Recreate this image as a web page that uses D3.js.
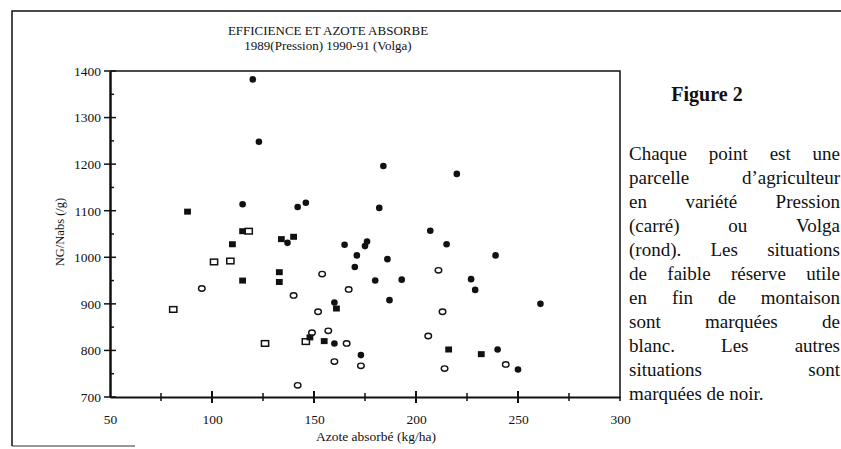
<!DOCTYPE html>
<html>
<head>
<meta charset="utf-8">
<script src="https://cdn.jsdelivr.net/npm/d3@7"></script>
<style>
  body { margin: 0; background: #fff; }
  svg text { font-family: "Liberation Serif", "Times New Roman", serif; fill: #111; }
</style>
</head>
<body>
<svg id="chart" width="841" height="449"></svg>
<script>
// Pression = carré, Volga = rond ; noir = autres situations, blanc = faible réserve utile
const pressionNoir = [[88,1098],[110,1028],[115,950],[115,1056],[133,968],[133,947],[134,1039],
  [140,1044],[161,890],[148,828],[155,820],[216,802],[232,792]];
const pressionBlanc = [[81,888],[101,990],[109,992],[118,1056],[126,815],[146,819]];
const volgaNoir = [[120,1382],[123,1248],[115,1114],[142,1108],[146,1117],[137,1031],[182,1106],
  [184,1196],[220,1179],[165,1027],[171,1004],[170,979],[175,1024],[176,1034],[186,996],
  [180,950],[193,952],[187,908],[160,903],[160,815],[173,790],[207,1057],[215,1028],
  [239,1004],[227,953],[229,930],[261,900],[240,802],[250,759]];
const volgaBlanc = [[95,933],[140,918],[154,964],[152,883],[167,931],[149,838],[157,842],
  [166,815],[160,776],[173,767],[142,725],[211,972],[213,883],[206,831],[214,761],[244,770]];

const xTicks = [50, 100, 150, 200, 250, 300];
const xMajor = [100, 150, 200, 250];
const xMinor = [75, 125, 175, 225, 275];
const yTicks = [700, 800, 900, 1000, 1100, 1200, 1300, 1400];
const yMinor = [750, 850, 950, 1050, 1150, 1250, 1350];

const titleLines = ["EFFICIENCE ET AZOTE ABSORBE", "1989(Pression) 1990-91 (Volga)"];
const noteLines = [
  "Chaque point est une",
  "parcelle d\u2019agriculteur",
  "en variété Pression",
  "(carré) ou Volga",
  "(rond). Les situations",
  "de faible réserve utile",
  "en fin de montaison",
  "sont marquées de",
  "blanc. Les autres",
  "situations sont",
  "marquées de noir."
];

const svg = d3.select("#chart");
const x = d3.scaleLinear().domain([50, 300]).range([110, 620]);
const y = d3.scaleLinear().domain([700, 1400]).range([397, 71]);

// cadre extérieur
svg.append("path")
   .attr("d", "M12,446 L12,11 L841,11")
   .attr("fill", "none").attr("stroke", "#111").attr("stroke-width", 1.5);
svg.append("line")
   .attr("x1", 12).attr("x2", 135).attr("y1", 446).attr("y2", 446)
   .attr("stroke", "#333").attr("stroke-width", 1.2);

// titre
svg.selectAll(".title")
   .data(titleLines)
   .enter().append("text")
   .attr("class", "title")
   .attr("x", 328)
   .attr("y", (d, i) => 35 + i * 15)
   .attr("text-anchor", "middle")
   .attr("font-size", 13)
   .text(d => d);

// cadre du graphique (haut et droite)
svg.append("path")
   .attr("d", `M${x(50)},${y(1400)} L${x(300)},${y(1400)} L${x(300)},${y(700) + 4}`)
   .attr("fill", "none").attr("stroke", "#111").attr("stroke-width", 1.5);

// axe x
const gx = svg.append("g")
   .attr("transform", `translate(0,${y(700)})`)
   .call(d3.axisBottom(x).tickValues(xTicks).tickFormat(d3.format("d")).tickSize(0).tickPadding(17));
gx.select(".domain").attr("stroke", "#111").attr("stroke-width", 2);
gx.selectAll("text").attr("font-family", "Liberation Serif").attr("font-size", 13.5).attr("fill", "#111");

gx.selectAll(".major")
  .data(xMajor).enter().append("line")
  .attr("x1", d => x(d)).attr("x2", d => x(d))
  .attr("y1", -6).attr("y2", 6)
  .attr("stroke", "#111").attr("stroke-width", 2);
gx.selectAll(".minor")
  .data(xMinor).enter().append("line")
  .attr("x1", d => x(d)).attr("x2", d => x(d))
  .attr("y1", -4).attr("y2", 4)
  .attr("stroke", "#111").attr("stroke-width", 1.5);

// axe y
const gy = svg.append("g")
   .attr("transform", `translate(${x(50)},0)`)
   .call(d3.axisLeft(y).tickValues(yTicks).tickFormat(d3.format("d")).tickSize(0).tickPadding(9));
gy.select(".domain").attr("stroke", "#111").attr("stroke-width", 2.5);
gy.selectAll("text").attr("font-family", "Liberation Serif").attr("font-size", 13.5).attr("fill", "#111");

gy.selectAll(".major")
  .data(yTicks).enter().append("line")
  .attr("y1", d => y(d)).attr("y2", d => y(d))
  .attr("x1", -6).attr("x2", 6)
  .attr("stroke", "#111").attr("stroke-width", 1.5);
gy.selectAll(".minor")
  .data(yMinor).enter().append("line")
  .attr("y1", d => y(d)).attr("y2", d => y(d))
  .attr("x1", 0).attr("x2", 4)
  .attr("stroke", "#111").attr("stroke-width", 1.5);

// titres des axes
svg.append("text")
   .attr("x", 376).attr("y", 441)
   .attr("text-anchor", "middle")
   .attr("font-size", 13.5)
   .text("Azote absorbé (kg/ha)");
svg.append("text")
   .attr("transform", "translate(64,232) rotate(-90)")
   .attr("text-anchor", "middle")
   .attr("font-size", 12.5)
   .text("NG/Nabs (/g)");

// points
const pts = svg.append("g");
pts.selectAll(".pb")
   .data(pressionBlanc).enter().append("rect")
   .attr("x", d => x(d[0]) - 3.6).attr("y", d => y(d[1]) - 2.8)
   .attr("width", 7.2).attr("height", 5.6)
   .attr("fill", "#fff").attr("stroke", "#111").attr("stroke-width", 1.5);
pts.selectAll(".vb")
   .data(volgaBlanc).enter().append("ellipse")
   .attr("cx", d => x(d[0])).attr("cy", d => y(d[1]))
   .attr("rx", 3.3).attr("ry", 2.7)
   .attr("fill", "#fff").attr("stroke", "#111").attr("stroke-width", 1.4);
pts.selectAll(".pn")
   .data(pressionNoir).enter().append("rect")
   .attr("x", d => x(d[0]) - 3.4).attr("y", d => y(d[1]) - 3)
   .attr("width", 6.8).attr("height", 6)
   .attr("fill", "#111");
pts.selectAll(".vn")
   .data(volgaNoir).enter().append("circle")
   .attr("cx", d => x(d[0])).attr("cy", d => y(d[1]))
   .attr("r", 3.3)
   .attr("fill", "#111");

// légende à droite
svg.append("text")
   .attr("x", 707).attr("y", 101)
   .attr("text-anchor", "middle")
   .attr("font-size", 20).attr("font-weight", "bold")
   .text("Figure 2");

const noteLeft = 629, noteRight = 840, noteTop = 160, lineH = 24;
const noteSize = 19;
const note = svg.append("g").attr("font-size", noteSize);
const spaceW = noteSize * 0.25;
noteLines.forEach((line, i) => {
  const words = line.split(" ");
  const ty = noteTop + i * lineH;
  const texts = words.map(w => note.append("text").attr("y", ty).text(w));
  const widths = texts.map(t => t.node().getComputedTextLength());
  const total = d3.sum(widths);
  const last = i === noteLines.length - 1;
  const gap = (last || words.length < 2) ? spaceW : (noteRight - noteLeft - total) / (words.length - 1);
  let cx = noteLeft;
  texts.forEach((t, k) => { t.attr("x", cx); cx += widths[k] + gap; });
});
</script>
</body>
</html>
